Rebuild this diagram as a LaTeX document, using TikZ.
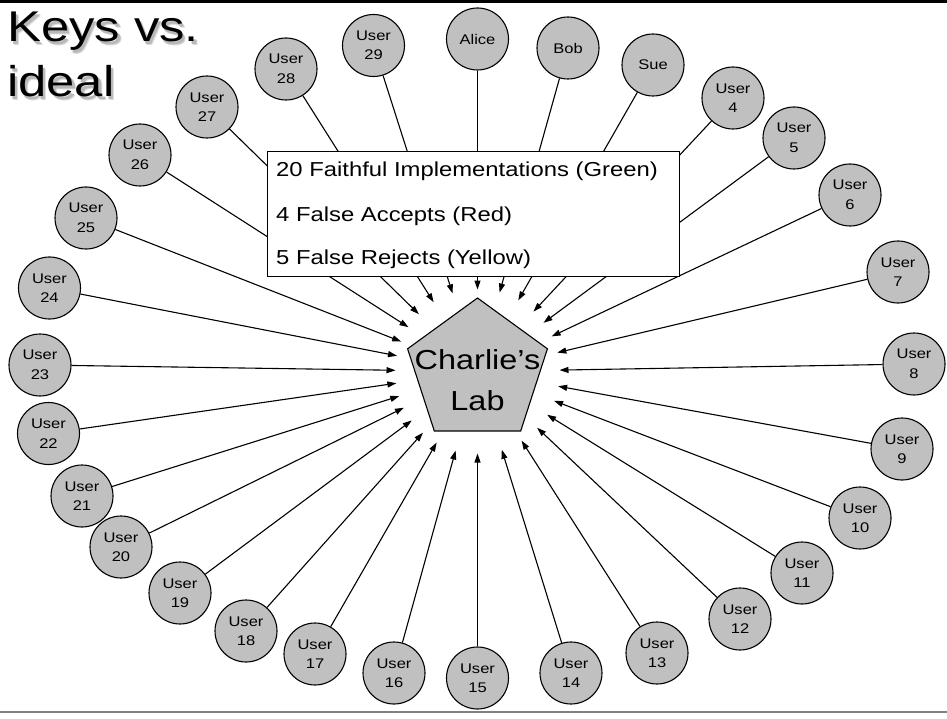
\documentclass[tikz,border=0pt]{standalone}
\usepackage{fontspec}
\setmainfont{Liberation Sans}[FakeStretch=1.18]
\usetikzlibrary{shapes.geometric,arrows.meta}
\definecolor{diskgray}{HTML}{C0C0C0}
\definecolor{rulegray}{HTML}{808080}
\begin{document}
\begin{tikzpicture}[x=1pt,y=-1pt,
  user/.style={circle,draw=black,line width=1.1pt,fill=diskgray,minimum size=62pt,
    inner sep=0pt,align=center,font=\fontsize{14}{19.5}\selectfont},
  feed/.style={line width=1.1pt,-{Triangle[length=9pt,width=6pt]}},
  titletext/.style={anchor=base west,inner sep=0pt,font=\fontsize{43}{50}\selectfont},
  boxtext/.style={anchor=base west,inner sep=0pt,font=\fontsize{20.2}{24}\selectfont},
]
\useasboundingbox (0,0) rectangle (947,719);

% frame rules
\draw[line width=3.5pt] (0,1.75) -- (947,1.75);
\draw[rulegray,line width=2pt] (0,712) -- (947,712);

% title with soft shadow
\node[titletext,text=black!14] (tshadowb1) at (10.5,45.5) {Keys vs.};
\node[titletext,text=black!14] (tshadowb2) at (10.5,100.5) {ideal};
\node[titletext,text=black!28] (tshadow1) at (9.5,44.5) {Keys vs.};
\node[titletext,text=black!28] (tshadow2) at (9.5,99.5) {ideal};
\node[titletext] (title1) at (7,42) {Keys vs.};
\node[titletext] (title2) at (7,97) {ideal};

% the lab
\node[regular polygon,regular polygon sides=5,minimum size=147pt,inner sep=0pt,
  draw=black,line width=1.1pt,fill=diskgray] (lab) at (477.5,371.5) {};
\node[align=center,inner sep=0pt,font=\fontsize{27.5}{41}\selectfont] (labtext) at (477.5,380) {Charlie’s\\Lab};
\node[circle,minimum size=164pt,inner sep=0pt,outer sep=0pt] (hub) at (477.5,371.5) {};

% users around the lab
\node[user] (alice) at (477.5,39) {Alice};
\node[user] (bob) at (568,48) {Bob};
\node[user] (sue) at (653,65) {Sue};
\node[user] (u4) at (733,98) {User\\4};
\node[user] (u5) at (794,138) {User\\5};
\node[user] (u6) at (850,195) {User\\6};
\node[user] (u7) at (898,272) {User\\7};
\node[user] (u8) at (914,364) {User\\8};
\node[user] (u9) at (902,449) {User\\9};
\node[user] (u10) at (860,518) {User\\10};
\node[user] (u11) at (802,573) {User\\11};
\node[user] (u12) at (740,619) {User\\12};
\node[user] (u13) at (657,653) {User\\13};
\node[user] (u14) at (571,673) {User\\14};
\node[user] (u15) at (477.5,678) {User\\15};
\node[user] (u16) at (394,673) {User\\16};
\node[user] (u17) at (315,654) {User\\17};
\node[user] (u18) at (246,631) {User\\18};
\node[user] (u19) at (180,593) {User\\19};
\node[user] (u20) at (121,547) {User\\20};
\node[user] (u21) at (82,496) {User\\21};
\node[user] (u22) at (48.5,433.5) {User\\22};
\node[user] (u23) at (40,365) {User\\23};
\node[user] (u24) at (49.5,288) {User\\24};
\node[user] (u25) at (86,218) {User\\25};
\node[user] (u26) at (140,155) {User\\26};
\node[user] (u27) at (207,107) {User\\27};
\node[user] (u28) at (286,69) {User\\28};
\node[user] (u29) at (373.5,45.5) {User\\29};

% every user feeds the lab
\foreach \u in {alice,bob,sue,u4,u5,u6,u7,u8,u9,u10,u11,u12,u13,u14,u15,u16,
                u17,u18,u19,u20,u21,u22,u23,u24,u25,u26,u27,u28,u29}
  \draw[feed] (\u) -- (hub);

% legend box over the lines
\node[draw=black,line width=1.1pt,fill=white,anchor=north west,
  minimum width=412pt,minimum height=125pt,inner sep=0pt] (keybox) at (267,151) {};
\node[boxtext] (line1) at (276,177) {20 Faithful Implementations (Green)};
\node[boxtext] (line2) at (276,222) {4 False Accepts (Red)};
\node[boxtext] (line3) at (276,265) {5 False Rejects (Yellow)};
\end{tikzpicture}
\end{document}
